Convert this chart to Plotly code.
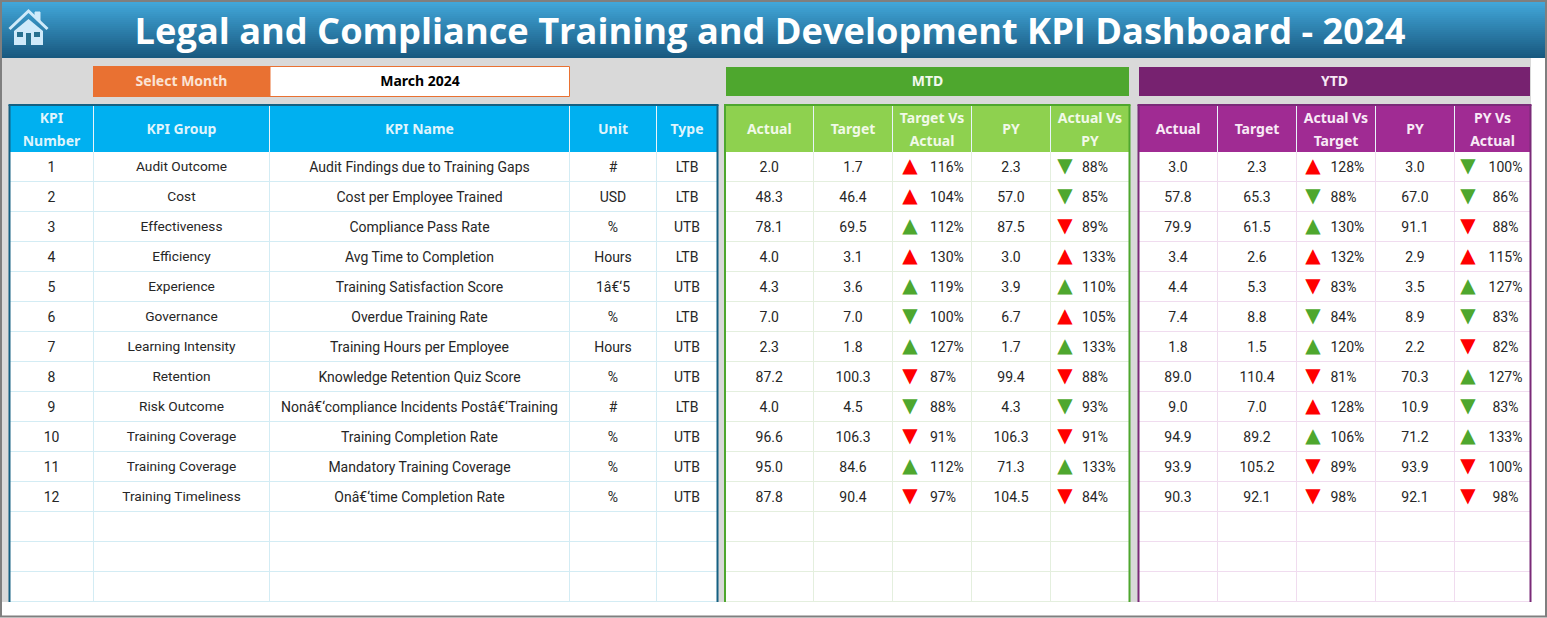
"""Legal and compliance training KPI dashboard, drawn with Plotly."""

import plotly.graph_objects as go

TITLE = "Legal and Compliance Training and Development KPI Dashboard - 2024"
SELECTED_MONTH = "March 2024"

kpi_numbers = [1, 2, 3, 4, 5, 6, 7, 8, 9, 10, 11, 12]
kpi_groups = ["Audit Outcome", "Cost", "Effectiveness", "Efficiency", "Experience", "Governance",
              "Learning Intensity", "Retention", "Risk Outcome", "Training Coverage",
              "Training Coverage", "Training Timeliness"]
kpi_names = ["Audit Findings due to Training Gaps", "Cost per Employee Trained", "Compliance Pass Rate",
             "Avg Time to Completion", "Training Satisfaction Score", "Overdue Training Rate",
             "Training Hours per Employee", "Knowledge Retention Quiz Score",
             "Nonâ€‘compliance Incidents Postâ€‘Training", "Training Completion Rate",
             "Mandatory Training Coverage", "Onâ€‘time Completion Rate"]
units = ["#", "USD", "%", "Hours", "1â€‘5", "%", "Hours", "%", "#", "%", "%", "%"]
types = ["LTB", "LTB", "UTB", "LTB", "UTB", "LTB", "UTB", "UTB", "LTB", "UTB", "UTB", "UTB"]

mtd_actual = [2.0, 48.3, 78.1, 4.0, 4.3, 7.0, 2.3, 87.2, 4.0, 96.6, 95.0, 87.8]
mtd_target = [1.7, 46.4, 69.5, 3.1, 3.6, 7.0, 1.8, 100.3, 4.5, 106.3, 84.6, 90.4]
mtd_vs_target = [116, 104, 112, 130, 119, 100, 127, 87, 88, 91, 112, 97]
mtd_py = [2.3, 57.0, 87.5, 3.0, 3.9, 6.7, 1.7, 99.4, 4.3, 106.3, 71.3, 104.5]
mtd_vs_py = [88, 85, 89, 133, 110, 105, 133, 88, 93, 91, 133, 84]

ytd_actual = [3.0, 57.8, 79.9, 3.4, 4.4, 7.4, 1.8, 89.0, 9.0, 94.9, 93.9, 90.3]
ytd_target = [2.3, 65.3, 61.5, 2.6, 5.3, 8.8, 1.5, 110.4, 7.0, 89.2, 105.2, 92.1]
ytd_vs_target = [128, 88, 130, 132, 83, 84, 120, 81, 128, 106, 89, 98]
ytd_py = [3.0, 67.0, 91.1, 2.9, 3.5, 8.9, 2.2, 70.3, 10.9, 71.2, 93.9, 92.1]
ytd_vs_py = [100, 86, 88, 115, 127, 83, 82, 127, 83, 133, 100, 98]

kpi_headers = ["KPI\nNumber", "KPI Group", "KPI Name", "Unit", "Type"]
mtd_headers = ["Actual", "Target", "Target Vs\nActual", "PY", "Actual Vs\nPY"]
ytd_headers = ["Actual", "Target", "Actual Vs\nTarget", "PY", "PY Vs\nActual"]

W, H = 1547, 618
ROW_TOP, ROW_H, N_ROWS = 152, 30, 15
TABLE_BOTTOM = ROW_TOP + ROW_H * N_ROWS
TEXT_DY = 1.5  # plotly sets text a little high of the given y
row_y = [ROW_TOP + ROW_H * (i + 0.5) - 0.5 for i in range(len(kpi_numbers))]

kpi_edges = [9.5, 93.5, 269.5, 569.5, 656.5, 717.5]
mtd_edges = [725, 813.5, 892.5, 971.5, 1050.5, 1129.5]
ytd_edges = [1138.5, 1217.5, 1296.5, 1375.5, 1454.5, 1530.5]

BODY_FONT = "Roboto"
HEAD_FONT = "Noto Sans"
TEXT_COLOR = "#262626"
GREEN = "#4ea72e"
RED = "#ff0000"
ORANGE = "#e97132"

shapes = []
fig = go.Figure()


def rect(x0, y0, x1, y1, fill=None, line=None, width=1):
    shapes.append(dict(type="rect", x0=x0, y0=y0, x1=x1, y1=y1, layer="below",
                       fillcolor=fill or "rgba(0,0,0,0)",
                       line=dict(color=line or "rgba(0,0,0,0)", width=width if line else 0)))


def vline(x, y0, y1, color, width=1):
    shapes.append(dict(type="line", x0=x, x1=x, y0=y0, y1=y1, layer="below",
                       line=dict(color=color, width=width)))


def hline(y, x0, x1, color, width=1):
    shapes.append(dict(type="line", x0=x0, x1=x1, y0=y, y1=y, layer="below",
                       line=dict(color=color, width=width)))


def add_text(xs, ys, labels, size=14, color=TEXT_COLOR, family=BODY_FONT, bold=False, anchor="middle center"):
    if bold:
        labels = [f"<b>{t}</b>" for t in labels]
    fig.add_trace(go.Scatter(x=xs, y=[y + TEXT_DY for y in ys], text=labels, mode="text", textposition=anchor,
                             textfont=dict(size=size, color=color, family=family),
                             hoverinfo="skip", showlegend=False, cliponaxis=False))


def hex_mix(c0, c1, t):
    a = [int(c0[i:i + 2], 16) for i in (1, 3, 5)]
    b = [int(c1[i:i + 2], 16) for i in (1, 3, 5)]
    return "#" + "".join(f"{round(p + (q - p) * t):02x}" for p, q in zip(a, b))


def draw_table(edges, headers, head_fill, head_text, border, grid):
    left, right = edges[0], edges[-1]
    rect(left, 105, right, TABLE_BOTTOM, fill="#ffffff")
    rect(left, 105, right, ROW_TOP, fill=head_fill)
    for i in range(1, N_ROWS + 1):
        hline(ROW_TOP + ROW_H * i - 0.5, left, right, grid)
    for x in edges[1:-1]:
        vline(x, ROW_TOP, TABLE_BOTTOM, grid)
        vline(x, 106, ROW_TOP, "#e8f4fa")
    vline(left, 105, TABLE_BOTTOM, border, 2)
    vline(right, 105, TABLE_BOTTOM, border, 2)
    hline(105, left - 1, right + 1, border, 2)
    for col, header in enumerate(headers):
        cx = (edges[col] + edges[col + 1]) / 2
        lines = header.split("\n")
        if len(lines) == 1:
            add_text([cx], [128.5], lines, color=head_text, family=HEAD_FONT, bold=True)
        else:
            add_text([cx, cx], [117.5, 140.5], lines, color=head_text, family=HEAD_FONT, bold=True)


def centers(edges):
    return [(a + b) / 2 for a, b in zip(edges, edges[1:])]


def draw_values(edges, actual, target, vs_target, py, vs_py, arrow_x, pct_x, pct_anchor):
    mids = centers(edges)
    add_text([mids[0]] * 12, row_y, [f"{v:.1f}" for v in actual])
    add_text([mids[1]] * 12, row_y, [f"{v:.1f}" for v in target])
    add_text([mids[3]] * 12, row_y, [f"{v:.1f}" for v in py])
    for pcts, ax, px_, anchor in ((vs_target, arrow_x[0], pct_x[0], pct_anchor[0]),
                                  (vs_py, arrow_x[1], pct_x[1], pct_anchor[1])):
        add_text([px_] * 12, row_y, [f"{p}%" for p in pcts], anchor=anchor)
        ups = [p > 100 for p in pcts]
        # lower is better for LTB, so an up arrow there is the bad case
        colors = [GREEN if up == (t == "UTB") else RED for up, t in zip(ups, types)]
        # glyphs rather than markers: plotly's triangle symbols come out too flat
        fig.add_trace(go.Scatter(
            x=[ax] * 12, y=row_y, mode="text", hoverinfo="skip", showlegend=False,
            text=["▲" if u else "▼" for u in ups], textposition="middle center",
            textfont=dict(size=20, family="DejaVu Sans", color=colors),
        ))


# page background
rect(2, 58, 1531, 602, fill="#d9d9d9")

# header band, top to bottom gradient
for y in range(2, 58, 2):
    rect(0, y, W, y + 2, fill=hex_mix("#41a6d9", "#17567c", (y - 2) / 56))

# house icon
ICON = "#cfeafa"
shapes.append(dict(type="path", path="M 14 31 L 14 45 L 43 45 L 43 31 L 28.5 19 Z",
                   fillcolor=ICON, line=dict(width=0)))
shapes.append(dict(type="path", path="M 9.5 29 L 28.5 11 L 47.5 29",
                   line=dict(color=ICON, width=3)))
shapes.append(dict(type="path", path="M 35 17 L 35 12 L 40 12 L 40 22",
                   fillcolor=ICON, line=dict(color=ICON, width=1)))
for x0, x1 in ((17, 23), (34, 40)):
    shapes.append(dict(type="rect", x0=x0, x1=x1, y0=32, y1=37, fillcolor="#27708f", line=dict(width=0)))
shapes.append(dict(type="rect", x0=26, x1=31, y0=33, y1=45, fillcolor="#27708f", line=dict(width=0)))

add_text([770], [33.5], [TITLE], size=36.2, color="#ffffff", family="Open Sans", bold=True)

# month selector and period bands
rect(93, 66, 270, 97, fill=ORANGE)
rect(270, 66.5, 569.5, 96.5, fill="#ffffff", line=ORANGE, width=1)
add_text([181.5], [81], ["Select Month"], color="#fbe3d4", family=HEAD_FONT, bold=True)
add_text([420], [81], [SELECTED_MONTH], color="#000000", family=HEAD_FONT, bold=True)

rect(726, 67, 1129, 96, fill=GREEN)
add_text([927.5], [81], ["MTD"], color="#f2f9ee", family=HEAD_FONT, bold=True)
rect(1139, 67, 1530, 96, fill="#772270")
add_text([1334.5], [81], ["YTD"], color="#f7e9f5", family=HEAD_FONT, bold=True)

# tables
draw_table(kpi_edges, kpi_headers, "#00b0f0", "#dff4fc", "#156082", "#d3ecf4")
draw_table(mtd_edges, mtd_headers, "#8ed14f", "#f1f9e8", GREEN, "#e4efde")
draw_table(ytd_edges, ytd_headers, "#a02b93", "#f8eaf6", "#7a2a78", "#f0dcef")

kpi_mids = centers(kpi_edges)
add_text([kpi_mids[0]] * 12, row_y, [str(n) for n in kpi_numbers])
add_text([kpi_mids[1]] * 12, row_y, kpi_groups, size=13.7)
add_text([kpi_mids[2]] * 12, row_y, kpi_names)
add_text([kpi_mids[3]] * 12, row_y, units)
add_text([kpi_mids[4]] * 12, row_y, types)

draw_values(mtd_edges, mtd_actual, mtd_target, mtd_vs_target, mtd_py, mtd_vs_py,
            (910, 1065), (930, 1082), ("middle right", "middle right"))
draw_values(ytd_edges, ytd_actual, ytd_target, ytd_vs_target, ytd_py, ytd_vs_py,
            (1313, 1468), (1330.5, 1505.5), ("middle right", "middle center"))

# outer frame
rect(1, 1, W - 1, H - 1.5, line="#7f7f7f", width=2)

fig.update_layout(
    width=W, height=H, autosize=False,
    margin=dict(l=0, r=0, t=0, b=0, pad=0),
    paper_bgcolor="#ffffff", plot_bgcolor="#ffffff",
    shapes=shapes, showlegend=False,
    xaxis=dict(range=[0, W], visible=False, fixedrange=True),
    yaxis=dict(range=[H, 0], visible=False, fixedrange=True),
)

fig.write_html("out.html", config={"displayModeBar": False},
               post_script="document.body.style.margin='0';document.body.style.overflow='hidden';")
